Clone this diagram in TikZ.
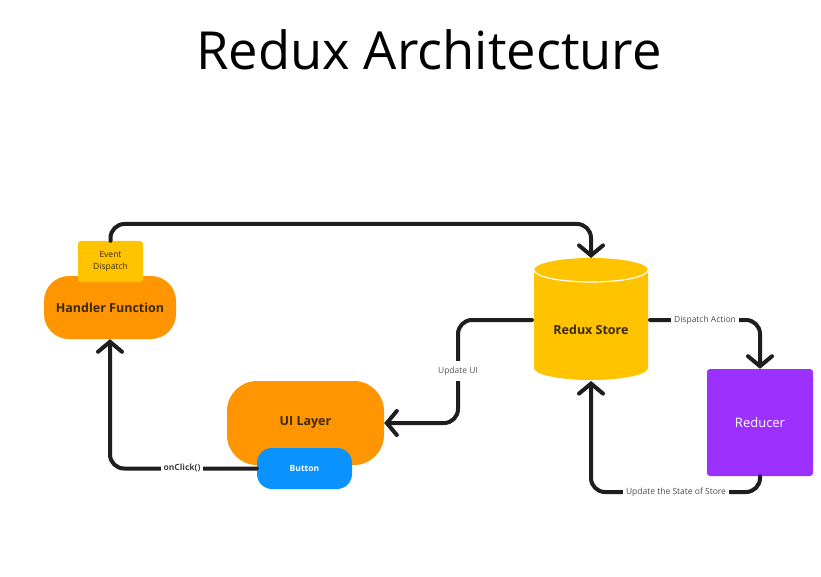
\documentclass[tikz,border=0pt]{standalone}
\usepackage{fontspec}
\setmainfont{Open Sans}
\usetikzlibrary{arrows.meta}
\definecolor{orng}{HTML}{FF9500}
\definecolor{yllw}{HTML}{FFC300}
\definecolor{blu}{HTML}{0A93FF}
\definecolor{purp}{HTML}{9B30FF}
\definecolor{ink}{HTML}{1E1E1E}
\definecolor{dtxt}{HTML}{3A2A12}
\definecolor{gtxt}{HTML}{555555}
\tikzset{
  boxbase/.style={inner sep=0pt, align=center},
  orangebox/.style={boxbase, fill=orng, font=\fontsize{12.5}{15}\selectfont\bfseries, text=dtxt},
  evbox/.style={boxbase, fill=yllw, rounded corners=3pt, minimum width=65pt, minimum height=41pt, font=\fontsize{8.5}{12.5}\selectfont, text=dtxt},
  btnbox/.style={boxbase, fill=blu, rounded corners=15pt, minimum width=95pt, minimum height=41pt, font=\fontsize{8.5}{11}\selectfont\bfseries, text=white},
  redbox/.style={boxbase, fill=purp, rounded corners=3pt, minimum width=106pt, minimum height=107pt, font=\fontsize{13}{15}\selectfont, text=white},
  conn/.style={draw=ink, line width=4pt, rounded corners=14pt, line cap=round},
  arr/.style={-{Straight Barb[length=10pt,width=24pt,line cap=round]}},
  lbl/.style={fill=white, inner sep=3pt, font=\fontsize{8.5}{10}\selectfont, text=gtxt},
}
\begin{document}
\begin{tikzpicture}[x=1pt,y=-1pt]
\useasboundingbox (0,0) rectangle (821,577);
\fill[white] (0,0) rectangle (821,577);
% title
\node[font=\fontsize{52.5}{60}\selectfont, text=black] (title) at (429,50) {Redux Architecture};
% handler
\node[orangebox, rounded corners=25pt, minimum width=132pt, minimum height=63pt] (hf) at (110,307.5) {Handler Function};
\node[evbox] (ed) at (110.5,261.5) {Event\\Dispatch};
% UI layer
\node[orangebox, rounded corners=30pt, minimum width=157pt, minimum height=84pt] (ui) at (305.5,423) {};
\node[font=\fontsize{12.5}{15}\selectfont\bfseries, text=dtxt] (uit) at (305.5,423) {UI Layer};
\node[btnbox] (btn) at (304.5,468.5) {Button};
% store cylinder
\fill[yllw] (534,270) arc[start angle=180, end angle=360, x radius=57, y radius=12]
  -- (648,368) arc[start angle=0, end angle=180, x radius=57, y radius=12] -- cycle;
\draw[white, line width=1.2pt] (534,270) arc[start angle=180, end angle=0, x radius=57, y radius=12];
\node[font=\fontsize{12.5}{15}\selectfont\bfseries, text=dtxt] (store) at (591,330) {Redux Store};
\coordinate (storeTop) at (591,258);
\coordinate (storeBot) at (591,381);
\coordinate (storeL) at (532,320);
\coordinate (storeR) at (650,320);
% reducer
\node[redbox] (red) at (760,422.5) {Reducer};
% junctions
\coordinate (j1) at (300,224);
\coordinate (j2) at (700,492);
\coordinate (j3) at (458,371);
% connectors
\draw[conn,arr] (ed.north) |- (j1) -| (storeTop);
\draw[conn,arr] (storeR) -| (red.north);
\draw[conn,arr] (red.south) |- (j2) -| (storeBot);
\draw[conn,arr] (storeL) -| (j3) |- (ui.east);
\draw[conn,arr] (btn.west) -| (hf.south);
% labels
\node[lbl, text=ink!80] (lDA) at (705,320) {Dispatch Action};
\node[lbl, text=ink!80] (lUS) at (676,492) {Update the State of Store};
\node[lbl, inner ysep=6pt] (lUI) at (458,371) {Update UI};
\node[lbl, font=\fontsize{8.5}{10}\selectfont\bfseries, text=ink!85] (lOC) at (182,468) {onClick()};
\end{tikzpicture}
\end{document}
